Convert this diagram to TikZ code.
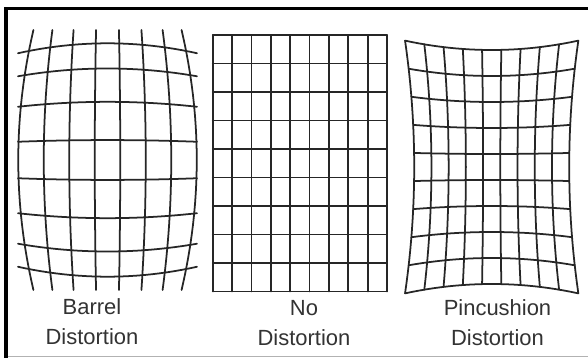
\documentclass[tikz,border=0pt]{standalone}
\usepackage{fontspec}
\setmainfont{Liberation Sans}
\usepackage{tikz}
\usetikzlibrary{positioning}

\begin{document}
\begin{tikzpicture}[
  x=0.02cm, y=-0.02cm,
  gridline/.style={line width=1pt, black!85, line cap=round},
  caption/.style={font=\fontsize{12.5}{17}\selectfont, text=black!80, align=center, inner sep=0pt, anchor=base}
]
\fill[white] (0,0) rectangle (588,358);
\useasboundingbox (0,0) rectangle (588,358);
\draw[line width=2.1pt] (6,358) -- (6,8.5) -- (588,8.5);
\draw[black!30, line width=0.6pt] (8,356.5) -- (588,356.5);
% barrel
\foreach \i [evaluate=\i as \xm using 25.5*(\i-3.5), evaluate=\i as \a using 0.1+0.07*((\i-3.5)/3.5)^2] in {0,...,7}
  \draw[gridline] plot[domain=-1:1, samples=25, variable=\t] ({107.5+\xm*(1-\a*\t*\t)}, {160+130*\t});
\foreach \j [evaluate=\j as \ym using 40*(\j-3.5)*(1-0.0136*(\j-3.5)^2)] in {0,...,7}
  \draw[gridline] plot[domain=-1:1, samples=25, variable=\s] ({107.5+89.5*\s}, {160+\ym*(1-0.085*\s*\s)});
% no distortion
\foreach \i in {0,...,9}
  \draw[gridline] ({212.7+19.37*\i},35) -- ({212.7+19.37*\i},291.5);
\foreach \j in {0,...,9}
  \draw[gridline] (212.7,{35+28.5*\j}) -- (387,{35+28.5*\j});
% pincushion
\foreach \i [evaluate=\i as \u using -1+2*\i/9] in {0,...,9}
  \draw[gridline] plot[domain=-1:1, samples=25, variable=\t] ({491.7+77.5*\u*(1+0.118*\t*\t)}, {167+117*\t*(1+0.08*\u*\u)});
\foreach \j [evaluate=\j as \v using -1+2*\j/9] in {0,...,9}
  \draw[gridline] plot[domain=-1:1, samples=25, variable=\s] ({491.7+77.5*\s*(1+0.118*\v*\v)}, {167+117*\v*(1+0.08*\s*\s)});
\node[caption] (barrel) at (92,344.3) {Barrel\\Distortion};
\node[caption] (none) at (304,345) {No\\Distortion};
\node[caption] (pincushion) at (497.5,345) {Pincushion\\Distortion};
\end{tikzpicture}
\end{document}
